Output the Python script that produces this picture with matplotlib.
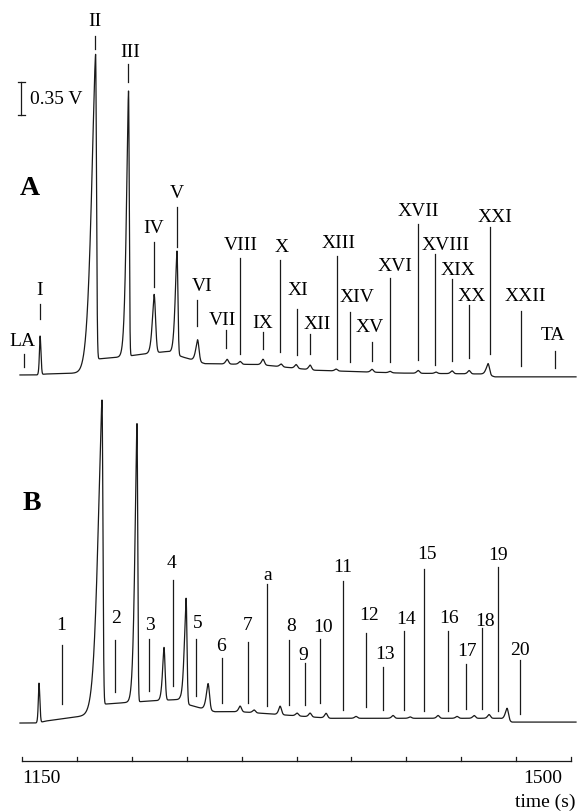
import numpy as np
import matplotlib
matplotlib.use('Agg')
import matplotlib.pyplot as plt

plt.rcParams['font.family'] = ['Liberation Serif', 'DejaVu Serif']

# ---- trace A : baseline knots (time s, V) and peaks (time s, height V, left w, right w)
base_a_t = [1148.7, 1160.2, 1164.7, 1187.0, 1195.9, 1198.5, 1212.5, 1231.6, 1243.1,
            1252.6, 1266.7, 1301.7, 1336.8, 1391.0, 1445.2, 1451.5, 1503.2]
base_a_v = [0.0, 0.0, 0.01, 0.02, 0.04, 0.17, 0.19, 0.23, 0.25,
            0.19, 0.12, 0.11, 0.05, 0.02, 0.01, -0.02, -0.02]
peak_a_t = [1161.5, 1196.9, 1217.9, 1234.2, 1248.8, 1261.9, 1280.7, 1289.0, 1303.6,
            1315.1, 1324.7, 1333.6, 1350.2, 1373.1, 1384.6, 1402.5, 1413.9, 1424.1,
            1435.0, 1447.1]
peak_a_h = [0.41, 3.31, 2.81, 0.62, 1.10, 0.23, 0.05, 0.03, 0.06,
            0.03, 0.04, 0.05, 0.02, 0.03, 0.015, 0.03, 0.015, 0.03,
            0.035, 0.12]
peak_a_wl = [0.6, 3.8, 1.9, 1.6, 1.6, 1.6, 1.3, 1.3, 1.3,
             1.3, 1.3, 1.3, 1.3, 1.3, 1.3, 1.3, 1.3, 1.3,
             1.3, 1.6]
peak_a_wr = [0.8, 0.8, 0.65, 1.3, 0.8, 1.3, 1.3, 1.3, 1.3,
             1.3, 1.3, 1.3, 1.3, 1.3, 1.3, 1.3, 1.3, 1.3,
             1.3, 1.3]

# marker lines of trace A: label, line time, line top/bottom (V), label time, label height (V)
lab_a = ['LA', 'I', 'II', 'III', 'IV', 'V', 'VI', 'VII', 'VIII', 'IX', 'X', 'XI', 'XII',
         'XIII', 'XIV', 'XV', 'XVI', 'XVII', 'XVIII', 'XIX', 'XX', 'XXI', 'XXII', 'TA']
mark_a_t = [1151.3, 1161.5, 1196.5, 1217.6, 1234.2, 1248.5, 1261.6, 1280.1, 1289.0, 1303.6,
            1314.5, 1325.6, 1333.9, 1350.8, 1359.1, 1373.1, 1384.9, 1402.5, 1413.3, 1424.1,
            1435.0, 1448.4, 1468.1, 1489.5]
mark_a_top = [0.22, 0.75, 3.59, 3.30, 1.41, 1.78, 0.80, 0.48, 1.24, 0.46, 1.22, 0.70, 0.43,
              1.26, 0.67, 0.35, 1.03, 1.60, 1.28, 1.02, 0.74, 1.57, 0.68, 0.25]
mark_a_bot = [0.08, 0.59, 3.46, 3.11, 0.93, 1.36, 0.52, 0.29, 0.22, 0.28, 0.24, 0.21, 0.22,
              0.17, 0.14, 0.15, 0.14, 0.16, 0.11, 0.15, 0.18, 0.22, 0.10, 0.07]
text_a_t = [1150.0, 1161.5, 1196.5, 1218.9, 1234.2, 1248.5, 1264.8, 1278.1, 1289.6, 1303.6,
            1315.8, 1326.0, 1338.1, 1352.1, 1363.6, 1371.9, 1387.8, 1402.5, 1420.3, 1428.0,
            1436.9, 1451.5, 1470.7, 1488.5]
text_a_v = [0.37, 0.91, 3.76, 3.43, 1.56, 1.94, 0.95, 0.59, 1.38, 0.56, 1.36, 0.91, 0.55,
            1.41, 0.83, 0.51, 1.16, 1.74, 1.38, 1.12, 0.84, 1.68, 0.84, 0.43]

# ---- trace B
base_b_t = [1148.7, 1160.2, 1164.7, 1187.0, 1200.3, 1202.3, 1218.9, 1238.0, 1250.7,
            1257.1, 1263.5, 1273.0, 1289.0, 1346.4, 1454.7, 1462.4, 1503.2]
base_b_v = [0.0, 0.0, 0.02, 0.07, 0.10, 0.20, 0.22, 0.24, 0.25,
            0.19, 0.16, 0.12, 0.12, 0.05, 0.05, 0.01, 0.01]
peak_b_t = [1160.8, 1201.0, 1223.3, 1240.5, 1254.6, 1268.6, 1289.0, 1297.9, 1314.5,
            1325.3, 1333.6, 1343.8, 1362.9, 1386.5, 1397.4, 1415.2, 1427.3, 1438.2,
            1447.7, 1459.2]
peak_b_h = [0.42, 3.29, 2.95, 0.56, 1.11, 0.28, 0.06, 0.03, 0.09,
            0.03, 0.04, 0.05, 0.02, 0.03, 0.015, 0.03, 0.02, 0.03,
            0.04, 0.13]
peak_b_wl = [0.6, 3.8, 1.9, 1.3, 1.6, 1.6, 1.3, 1.3, 1.3,
             1.3, 1.3, 1.3, 1.3, 1.3, 1.3, 1.3, 1.3, 1.3,
             1.3, 1.6]
peak_b_wr = [0.8, 0.8, 0.65, 1.0, 0.8, 1.3, 1.3, 1.3, 1.3,
             1.3, 1.3, 1.3, 1.3, 1.3, 1.3, 1.3, 1.3, 1.3,
             1.3, 1.3]

lab_b = ['1', '2', '3', '4', '5', '6', '7', 'a', '8', '9', '10', '11', '12', '13',
         '14', '15', '16', '17', '18', '19', '20']
mark_b_t = [1175.5, 1209.3, 1231.0, 1246.3, 1260.9, 1277.5, 1294.1, 1306.2, 1320.2, 1330.4,
            1340.0, 1354.6, 1369.3, 1380.1, 1393.5, 1406.3, 1421.6, 1433.1, 1443.3, 1453.5,
            1467.5]
mark_b_top = [0.83, 0.88, 0.89, 1.52, 0.89, 0.69, 0.86, 1.47, 0.88, 0.64, 0.89, 1.51, 0.95,
              0.59, 0.98, 1.63, 0.98, 0.63, 1.01, 1.65, 0.67]
mark_b_bot = [0.20, 0.33, 0.34, 0.39, 0.29, 0.21, 0.21, 0.18, 0.19, 0.19, 0.21, 0.14, 0.17,
              0.14, 0.14, 0.13, 0.13, 0.15, 0.15, 0.13, 0.10]
text_b_t = [1174.9, 1209.9, 1231.6, 1245.6, 1262.2, 1276.9, 1294.1, 1306.8, 1321.5, 1329.1,
            1341.9, 1354.6, 1371.2, 1381.4, 1394.8, 1408.2, 1422.2, 1433.7, 1445.2, 1453.5,
            1467.5]
text_b_v = [1.04, 1.12, 1.04, 1.70, 1.07, 0.82, 1.04, 1.58, 1.03, 0.73, 1.02, 1.66, 1.15,
            0.74, 1.11, 1.80, 1.12, 0.77, 1.09, 1.79, 0.78]

time_ticks = np.arange(1150, 1501, 35)


def peak(t, t0, h, wl, wr):
    d = t - t0
    return np.where(d < 0, h * np.exp(-(np.abs(d) / wl) ** 1.5), h * np.exp(-(d / wr) ** 2))


def trace(t, bt, bv, pt, ph, pwl, pwr):
    y = np.interp(t, bt, bv)
    for t0, h, wl, wr in zip(pt, ph, pwl, pwr):
        y = y + peak(t, t0, h, wl, wr)
    return y


OFF_A = 4.624
OFF_B = 0.933
ink = '#1a1a1a'
fs = 14

fig = plt.figure(figsize=(5.78, 8.12), dpi=100)
ax = fig.add_axes([0, 0, 1, 1])
ax.set_xlim(1135.97, 1504.46)
ax.set_ylim(0, 8.611)
ax.axis('off')

t = np.arange(1148.7, 1503.2, 0.02)
ax.plot(t, OFF_A + trace(t, base_a_t, base_a_v, peak_a_t, peak_a_h, peak_a_wl, peak_a_wr),
        color=ink, lw=0.9)
ax.plot(t, OFF_B + trace(t, base_b_t, base_b_v, peak_b_t, peak_b_h, peak_b_wl, peak_b_wr),
        color=ink, lw=0.9)

for lab, mt, top, bot, tt, tv in zip(lab_a, mark_a_t, mark_a_top, mark_a_bot, text_a_t, text_a_v):
    ax.plot([mt, mt], [OFF_A + bot, OFF_A + top], color=ink, lw=0.9)
    ax.text(tt, OFF_A + tv, lab, ha='center', va='center', fontsize=fs)

for lab, mt, top, bot, tt, tv in zip(lab_b, mark_b_t, mark_b_top, mark_b_bot, text_b_t, text_b_v):
    ax.plot([mt, mt], [OFF_B + bot, OFF_B + top], color=ink, lw=0.9)
    ax.text(tt, OFF_B + tv, lab, ha='center', va='center', fontsize=fs)

# panel letters
ax.text(1155.1, OFF_A + 1.99, 'A', ha='center', va='center', fontsize=20, fontweight='bold')
ax.text(1156.4, OFF_B + 2.34, 'B', ha='center', va='center', fontsize=20, fontweight='bold')

# 0.35 V scale bar
sb_t = 1149.4
ax.plot([sb_t, sb_t], [OFF_A + 2.76, OFF_A + 3.11], color=ink, lw=0.9)
for yy in (2.76, 3.11):
    ax.plot([sb_t - 2.2, sb_t + 2.2], [OFF_A + yy, OFF_A + yy], color=ink, lw=0.9)
ax.text(1155.1, OFF_A + 2.93, '0.35 V', ha='left', va='center', fontsize=fs)

# time axis
ax_y = 0.53
ax.plot([time_ticks[0], time_ticks[-1]], [ax_y, ax_y], color=ink, lw=0.9)
for tk in time_ticks:
    ax.plot([tk, tk], [ax_y, ax_y + 0.045], color=ink, lw=0.9)
ax.text(1150, 0.35, '1150', ha='left', va='center', fontsize=fs)
ax.text(1494.3, 0.35, '1500', ha='right', va='center', fontsize=fs)
ax.text(1503.0, 0.10, 'time (s)', ha='right', va='center', fontsize=fs)

fig.savefig('out.png', dpi=100)
